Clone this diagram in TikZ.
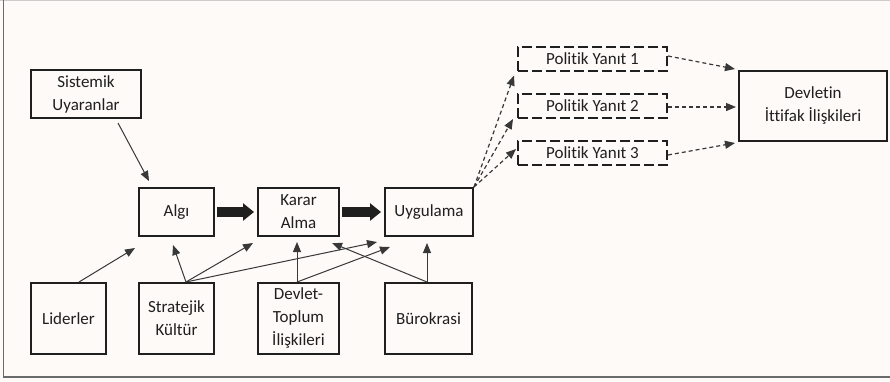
\documentclass[tikz,border=0pt]{standalone}
\usepackage{fontspec}
\setmainfont{Carlito}[Ligatures={NoCommon,NoContextual}]
\usepackage{tikz}
\usetikzlibrary{arrows.meta, positioning, calc}
\definecolor{mainBlack}{gray}{0.12}
\definecolor{subGray}{gray}{0.22}
\definecolor{paperWhite}{RGB}{253,250,247}
\definecolor{frameGray}{gray}{0.42}
\definecolor{topGray}{gray}{0.8}

\begin{document}
\begin{tikzpicture}[x=1pt, y=-1pt,
        box/.style={draw=mainBlack, line width=2pt, align=center, inner sep=0pt,
            text=mainBlack, font=\fontsize{17}{23}\selectfont},
        dbox/.style={box, dash pattern=on 10pt off 4pt},
        thinarrow/.style={-{Triangle[length=10pt,width=8pt]}, subGray, line width=1pt},
        dasharrow/.style={-{Triangle[length=10pt,width=8pt]}, subGray, line width=1.2pt, dash pattern=on 4pt off 3pt},
        bigarrow/.style={-{Triangle[length=11pt,width=17pt]}, mainBlack, line width=10pt}]
    % paper and frame
    \fill[paperWhite] (0,0) rectangle (890,381);
    \useasboundingbox (0,0) rectangle (890,381);
    \draw[topGray, line width=1pt] (0,0.5) -- (890,0.5);
    \draw[frameGray, line width=1.5pt] (3.5,0) -- (3.5,377) -- (890,377);

    % top row
    \node[box, minimum width=110pt, minimum height=48pt] (sis) at (86,94) {Sistemik\\Uyaranlar};
    \node[box, minimum width=75pt, minimum height=48pt] (algi) at (176.5,212) {Algı};
    \node[box, minimum width=81pt, minimum height=48pt] (karar) at (298.5,212) {Karar\\Alma};
    \node[box, minimum width=88pt, minimum height=48pt] (uyg) at (429,212) {Uygulama};

    % bottom row
    \node[box, minimum width=75pt, minimum height=71pt] (lid) at (68.5,318.5) {Liderler};
    \node[box, minimum width=75pt, minimum height=71pt] (strat) at (176.5,318.5) {Stratejik\\Kültür};
    \node[box, minimum width=81pt, minimum height=71pt] (devtop) at (298.5,318.5) {Devlet-\\Toplum\\İlişkileri};
    \node[box, minimum width=87pt, minimum height=71pt] (burok) at (428.5,318.5) {Bürokrasi};

    % responses
    \foreach \i/\y in {1/58.5, 2/106, 3/152.5} {
        \node[dbox, minimum width=149pt, minimum height=24pt] (py\i) at (592.5,\y) {Politik Yanıt \i};
    }
    \node[box, minimum width=148pt, minimum height=70pt] (dev) at (813,106) {Devletin\\İttifak İlişkileri};

    % process
    \draw[bigarrow, shorten <=2pt, shorten >=3pt] (algi.east) -- (karar.west);
    \draw[bigarrow, shorten <=2pt, shorten >=3pt] (karar.east) -- (uyg.west);

    % influences
    \draw[thinarrow] ([xshift=32pt,yshift=-4pt]sis.south) -- ([xshift=-27.5pt,yshift=6pt]algi.north);
    \draw[thinarrow] ([xshift=10.5pt]lid.north) -- ([xshift=-3pt,yshift=-11pt]algi.south west);
    \draw[thinarrow] ([xshift=9.5pt]strat.north) -- ([xshift=-3.5pt,yshift=-8pt]algi.south);
    \draw[thinarrow] ([xshift=9.5pt]strat.north) -- ([xshift=-4pt,yshift=-6pt]karar.south west);
    \draw[thinarrow] ([xshift=9.5pt]strat.north) -- ([xshift=-7pt,yshift=-5pt]uyg.south west);
    \draw[thinarrow] ([xshift=-1.5pt]devtop.north) -- ([xshift=-1.5pt,yshift=-5pt]karar.south);
    \draw[thinarrow] ([xshift=-1.5pt]devtop.north) -- ([xshift=6pt,yshift=-10pt]uyg.south west);
    \draw[thinarrow] ([xshift=-1.5pt]burok.north) -- ([xshift=-8pt,yshift=-6pt]karar.south east);
    \draw[thinarrow] ([xshift=-1.5pt]burok.north) -- ([xshift=-2pt,yshift=-6pt]uyg.south);

    % responses
    \draw[dasharrow] (uyg.north east) -- ([xshift=-3pt,yshift=-4pt]py1.south west);
    \draw[dasharrow] (uyg.north east) -- ([xshift=-4pt]py2.south west);
    \draw[dasharrow] (uyg.north east) -- ([xshift=-1pt,yshift=3.5pt]py3.west);
    \draw[dasharrow] ([yshift=2.5pt]py1.east) -- ([xshift=-3pt,yshift=1pt]dev.north west);
    \draw[dasharrow] ([yshift=-1pt]py2.east) -- ([xshift=-2pt,yshift=-1pt]dev.west);
    \draw[dasharrow] ([yshift=-2.5pt]py3.east) -- ([xshift=-3pt,yshift=-1pt]dev.south west);
\end{tikzpicture}
\end{document}
